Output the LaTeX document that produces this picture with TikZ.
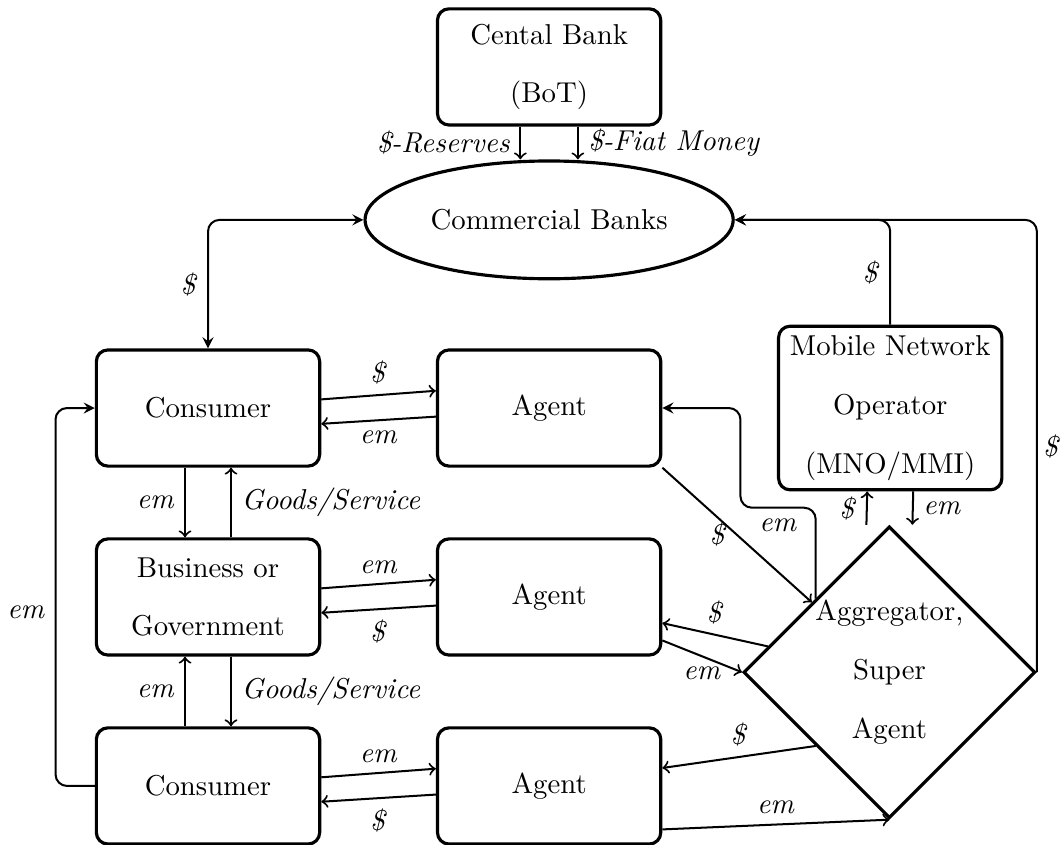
\documentclass[tikz,border=0pt]{standalone}
\usepackage{tikz}
\usetikzlibrary{calc,shapes.geometric}
\begin{document}
\begin{tikzpicture}
        \tikzstyle {acteur} = [rectangle, rounded corners, minimum width=2.73cm, minimum height=1.42cm, text centered, align=center, draw=black, line width=1.1pt, font=\linespread{1.7}\selectfont]
        \tikzstyle {banque} = [ellipse, minimum width=4.5cm, minimum height=1.44cm, text centered, draw=black, line width=1.1pt]
        \tikzstyle {agregateur} = [diamond, aspect=1, minimum size=3.5cm, inner sep=0pt, text centered, align=center, draw=black, line width=1.1pt, font=\linespread{1.7}\selectfont]
        \tikzstyle {flux} = [->, line width=0.7pt]
        \tikzstyle {lien} = [-stealth, line width=0.7pt, rounded corners]
        \useasboundingbox (-2.543,4.988) rectangle (10.44,-5.342);

        \node (consumer_top) [acteur] {Consumer};
        \node (agent_top) [acteur, right of=consumer_top, xshift=3.17cm] {Agent};
        \node (commercial) [banque, above of=agent_top, yshift=1.3cm] {Commercial Banks};
        \node (central) [acteur, above of=commercial, yshift=0.87cm] {Cental Bank\\(BoT)};
        \node (business) [acteur, below of=consumer_top, yshift=-1.31cm] {Business or\\Government};
        \node (agent_mid) [acteur, right of=business, xshift=3.17cm] {Agent};
        \node (consumer_bot) [acteur, below of=business, yshift=-1.31cm] {Consumer};
        \node (agent_bot) [acteur, right of=consumer_bot, xshift=3.17cm] {Agent};
        \node (mno) [acteur, right of=agent_top, xshift=3.17cm] {Mobile Network\\Operator\\(MNO/MMI)};
        \node (aggregator) [agregateur, right of=agent_mid, xshift=3.16cm, yshift=-0.92cm] {Aggregator,\\Super\\Agent};

        \draw[flux] ([xshift=-10pt]central.south) -- node[left]{\textit{\$-Reserves}} ([xshift=-10pt]commercial.north);
        \draw[flux] ([xshift=10pt]central.south) -- node[right]{\textit{\$-Fiat Money}} ([xshift=10pt]commercial.north);
        \draw[lien, stealth-stealth] (commercial.west) -| node[pos=0.75,left]{\textit{\$}} (consumer_top.north);
        \draw[lien] (mno.north) |- node[pos=0.25,left]{\textit{\$}} (commercial.east);
        \draw[lien] (aggregator.east) |- node[pos=0.25,right,xshift=-1.5pt]{\textit{\$}} (commercial.east);

        \draw[flux] ([yshift=3pt]consumer_top.east) -- node[above]{\textit{\$}} ([yshift=6pt]agent_top.west);
        \draw[flux] ([yshift=-3pt]agent_top.west) -- node[below]{\textit{em}} ([yshift=-5.5pt]consumer_top.east);
        \draw[flux] ([yshift=3pt]business.east) -- node[above]{\textit{em}} ([yshift=6pt]agent_mid.west);
        \draw[flux] ([yshift=-3pt]agent_mid.west) -- node[below]{\textit{\$}} ([yshift=-5.5pt]business.east);
        \draw[flux] ([yshift=3pt]consumer_bot.east) -- node[above]{\textit{em}} ([yshift=6pt]agent_bot.west);
        \draw[flux] ([yshift=-3pt]agent_bot.west) -- node[below]{\textit{\$}} ([yshift=-5.5pt]consumer_bot.east);

        \draw[flux] ([xshift=-8pt]consumer_top.south) -- node[left]{\textit{em}} ([xshift=-8pt]business.north);
        \draw[flux] ([xshift=8pt]business.north) -- node[right]{\textit{Goods/Service}} ([xshift=8pt]consumer_top.south);
        \draw[flux] ([xshift=-8pt]consumer_bot.north) -- node[left]{\textit{em}} ([xshift=-8pt]business.south);
        \draw[flux] ([xshift=8pt]business.south) -- node[right]{\textit{Goods/Service}} ([xshift=8pt]consumer_bot.north);
        \draw[lien] (consumer_bot.west) -- ++(-0.48,0) |- node[pos=0.23,left]{\textit{em}} (consumer_top.west);

        \draw[flux] ([xshift=-8pt]aggregator.north) -- node[left]{\textit{\$}} ([xshift=-8pt]mno.south);
        \draw[flux] ([xshift=8pt]mno.south) -- node[right]{\textit{em}} ([xshift=8pt]aggregator.north);
        \draw[flux] (agent_top.south east) -- node[left]{\textit{\$}} (aggregator);
        \draw[lien] (aggregator.north west) |- node[pos=0.75,below]{\textit{em}} ++(-0.92,1.11) |- (agent_top.east);
        \draw[flux] (aggregator.168) -- node[above]{\textit{\$}} (agent_mid.-13);
        \draw[flux] (agent_mid.-21) -- node[below]{\textit{em}} (aggregator.west);
        \draw[flux] (aggregator.south west) -- node[above]{\textit{\$}} (agent_bot.9);
        \draw[flux] (agent_bot.-21) -- node[above]{\textit{em}} (aggregator.south);
    \end{tikzpicture}
\end{document}
